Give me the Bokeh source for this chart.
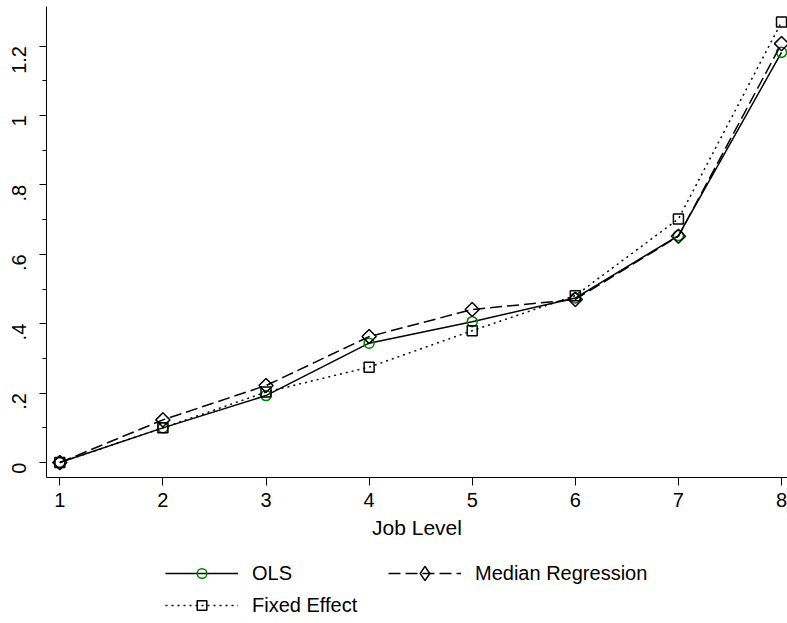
import math
from bokeh.plotting import figure
from bokeh.layouts import column
from bokeh.models import FixedTicker, Legend, LegendItem, Range1d
from bokeh.embed import file_html
from bokeh.resources import INLINE

job_level = [1, 2, 3, 4, 5, 6, 7, 8]
ols = [0.0, 0.100, 0.193, 0.344, 0.406, 0.474, 0.654, 1.182]
median_reg = [0.0, 0.123, 0.222, 0.363, 0.441, 0.470, 0.652, 1.207]
fixed_eff = [0.0, 0.100, 0.203, 0.275, 0.380, 0.481, 0.702, 1.269]

x_ticks = [1, 2, 3, 4, 5, 6, 7, 8]
y_ticks = [0.0, 0.2, 0.4, 0.6, 0.8, 1.0, 1.2]
y_tick_labels = ["0", ".2", ".4", ".6", ".8", "1", "1.2"]
y_minor = [0.1, 0.3, 0.5, 0.7, 0.9, 1.1]

series_names = ["OLS", "Median Regression", "Fixed Effect"]
series_values = [ols, median_reg, fixed_eff]

FONT = "Liberation Sans"

# plot markers (the median series uses a square turned 45 degrees = diamond)
STYLES = [
    dict(dash="solid", marker="circle", size=10, angle=0.0, color="#008000",
         leg_marker="circle"),
    dict(dash="12 5", marker="square", size=10, angle=math.pi / 4, color="black",
         leg_marker="diamond"),
    dict(dash="2 4", marker="square", size=10, angle=0.0, color="black",
         leg_marker="square"),
]

p = figure(frame_width=741, frame_height=471, output_backend="svg",
           toolbar_location=None, x_range=Range1d(0.871, 8.058),
           y_range=Range1d(-0.043, 1.314),
           min_border_left=46, min_border_right=0, min_border_top=6,
           min_border_bottom=78)
p.outline_line_color = None
p.xgrid.visible = False
p.ygrid.visible = False

for vals, st in zip(series_values, STYLES):
    p.line(job_level, vals, line_color="black", line_width=1.5,
           line_dash=st["dash"])
    p.scatter(job_level, vals, marker=st["marker"], size=st["size"],
              angle=st["angle"], fill_color=None, line_color=st["color"],
              line_width=1.5)

for ax in (p.xaxis, p.yaxis):
    ax.axis_line_color = "black"
    ax.major_tick_line_color = "black"
    ax.minor_tick_line_color = "black"
    ax.major_label_text_color = "black"
    ax.major_label_text_font = FONT
    ax.major_label_text_font_size = "20px"
    ax.axis_label_text_color = "black"
    ax.axis_label_text_font = FONT
    ax.axis_label_text_font_style = "normal"
    ax.axis_label_text_font_size = "21px"

p.xaxis.ticker = FixedTicker(ticks=x_ticks)
p.xaxis.axis_label = "Job Level"
p.xaxis.axis_label_standoff = 6
p.xaxis.major_tick_out = 8
p.xaxis.major_tick_in = 0
p.xaxis.minor_tick_out = 0
p.xaxis.major_label_standoff = 7

p.yaxis.ticker = FixedTicker(ticks=y_ticks, minor_ticks=y_minor)
p.yaxis.major_label_overrides = {t: s for t, s in zip(y_ticks, y_tick_labels)}
p.yaxis.major_label_orientation = math.pi / 2
p.yaxis.major_tick_out = 7
p.yaxis.major_tick_in = 0
p.yaxis.minor_tick_out = 4
p.yaxis.minor_tick_in = 0
p.yaxis.major_label_standoff = 20

# legend strip below the plot (its renderers lie outside its ranges)
lg = figure(width=787, height=68, output_backend="svg", toolbar_location=None,
            x_range=Range1d(100, 101), y_range=Range1d(100, 101),
            x_axis_location=None, y_axis_location=None,
            min_border_left=0, min_border_right=0, min_border_top=0,
            min_border_bottom=0)
lg.outline_line_color = None
lg.xgrid.visible = False
lg.ygrid.visible = False

items = {}
for name, vals, st in zip(series_names, series_values, STYLES):
    rl = lg.line(job_level, vals, line_color="black", line_width=1.5,
                 line_dash=st["dash"])
    rm = lg.scatter(job_level, vals, marker=st["leg_marker"], size=st["size"],
                    fill_color=None, line_color=st["color"], line_width=1.5)
    items[name] = LegendItem(label=name, renderers=[rl, rm], index=0)


def make_legend(its, loc, gh=24, spacing=8):
    leg = Legend(items=its, location=loc)
    leg.label_text_font = FONT
    leg.label_text_font_size = "20px"
    leg.label_text_color = "black"
    leg.glyph_width = 73
    leg.glyph_height = gh
    leg.label_height = gh
    leg.label_standoff = 14
    leg.spacing = spacing
    leg.padding = 0
    leg.margin = 0
    leg.border_line_color = None
    leg.background_fill_alpha = 0
    return leg


lg.add_layout(make_legend([items["OLS"], items["Fixed Effect"]], (119, 6)), "center")
lg.add_layout(make_legend([items["Median Regression"]], (342, 32), gh=36), "center")

layout = column(p, lg, spacing=0)
open("out.html", "w").write(file_html(layout, INLINE))
